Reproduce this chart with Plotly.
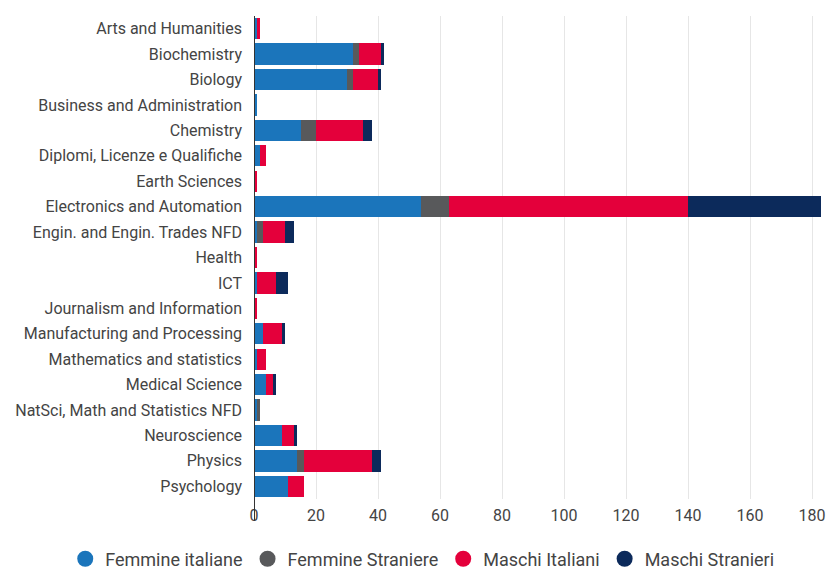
import plotly.graph_objects as go

categories = [
    "Arts and Humanities", "Biochemistry", "Biology", "Business and Administration",
    "Chemistry", "Diplomi, Licenze e Qualifiche", "Earth Sciences",
    "Electronics and Automation", "Engin. and Engin. Trades NFD", "Health", "ICT",
    "Journalism and Information", "Manufacturing and Processing",
    "Mathematics and statistics", "Medical Science", "NatSci, Math and Statistics NFD",
    "Neuroscience", "Physics", "Psychology",
]
femmine_italiane  = [1, 32, 30, 1, 15, 2, 0, 54, 1, 0, 1, 0, 3, 1, 4, 1, 9, 14, 11]
femmine_straniere = [0, 2, 2, 0, 5, 0, 0, 9, 2, 0, 0, 0, 0, 0, 0, 1, 0, 2, 0]
maschi_italiani   = [1, 7, 8, 0, 15, 2, 1, 77, 7, 1, 6, 1, 6, 3, 2, 0, 4, 22, 5]
maschi_stranieri  = [0, 1, 1, 0, 3, 0, 0, 43, 3, 0, 4, 0, 1, 0, 1, 0, 1, 3, 0]

series_names = ["Femmine italiane", "Femmine Straniere", "Maschi Italiani", "Maschi Stranieri"]
series_values = [femmine_italiane, femmine_straniere, maschi_italiani, maschi_stranieri]
colors = ["#1B75BB", "#58595B", "#E4003B", "#0C2A5B"]
x_ticks = [0, 20, 40, 60, 80, 100, 120, 140, 160, 180]

fig = go.Figure()
for name, vals, col in zip(series_names, series_values, colors):
    fig.add_trace(go.Bar(
        y=categories, x=vals, name=name, orientation="h",
        marker=dict(color=col, line=dict(width=0)), showlegend=False,
    ))
for name, col in zip(series_names, colors):
    fig.add_trace(go.Scatter(
        x=[None], y=[None], mode="markers", name=name,
        marker=dict(color=col, size=17, symbol="circle"),
    ))

# axis line extending slightly below the plot area, as in the reference
fig.add_shape(type="line", xref="x", yref="paper", x0=0, x1=0, y0=-0.045, y1=1,
              line=dict(color="#333333", width=2), layer="above")

fig.update_layout(
    barmode="stack",
    bargap=0.16,
    width=819, height=562,
    margin=dict(l=246, r=1, t=8, b=71, autoexpand=False),
    paper_bgcolor="white", plot_bgcolor="white",
    font=dict(family="Roboto", size=16, color="#444444"),
    legend=dict(orientation="h", x=-0.330, xanchor="left", xref="paper",
                y=-0.086, yanchor="top", yref="paper",
                font=dict(size=18, color="#444444"), itemwidth=30,
                traceorder="normal"),
    xaxis=dict(range=[0, 184.5], tickvals=x_ticks, showgrid=True, gridcolor="#E6E6E6",
               gridwidth=1, zeroline=False, showline=False, ticks="", automargin=False,
               ticklabeloverflow="allow", ticklabelstandoff=5,
               tickfont=dict(size=16, color="#444444")),
    yaxis=dict(categoryorder="array", categoryarray=categories, autorange="reversed",
               showline=False, ticks="", automargin=False,
               ticklabelstandoff=11, showgrid=False,
               tickfont=dict(size=16, color="#444444")),
)

fig.write_html("out.html")
